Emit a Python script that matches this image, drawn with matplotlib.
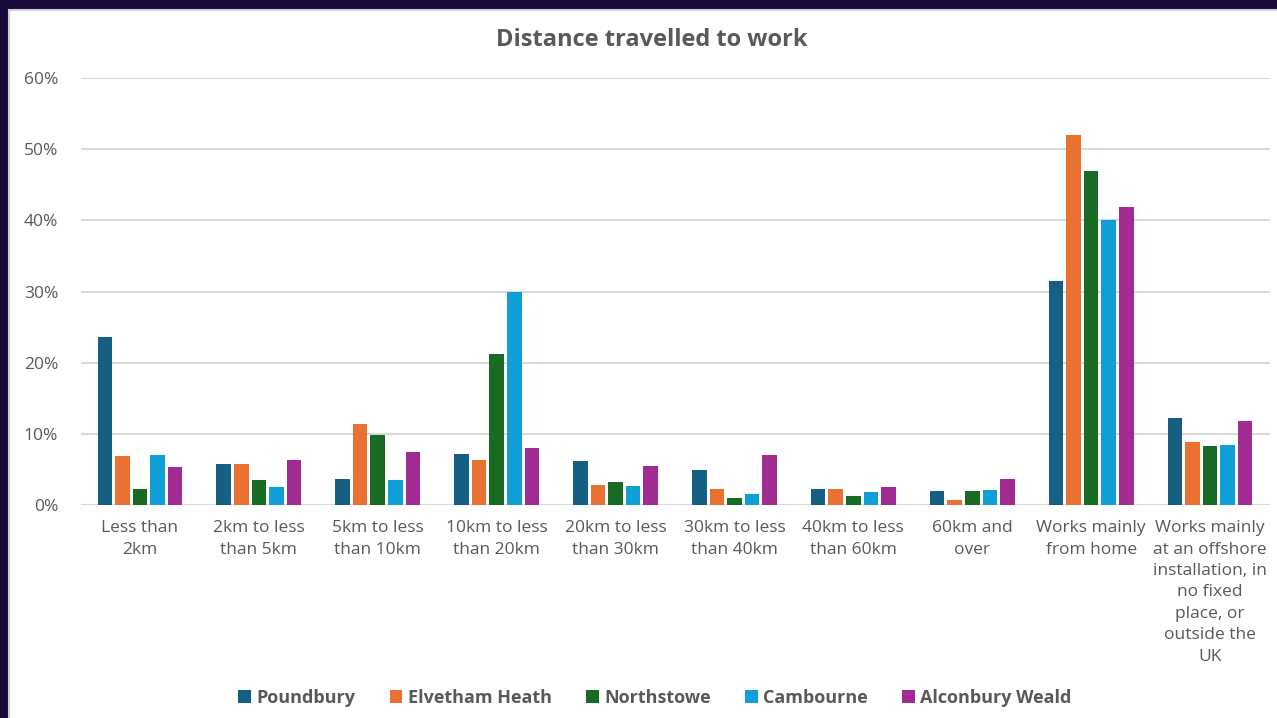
import matplotlib
matplotlib.use("Agg")
from matplotlib import pyplot as plt
from matplotlib.patches import Rectangle
import numpy as np

CATEGORIES = [
    "Less than\n2km", "2km to less\nthan 5km", "5km to less\nthan 10km",
    "10km to less\nthan 20km", "20km to less\nthan 30km", "30km to less\nthan 40km",
    "40km to less\nthan 60km", "60km and\nover", "Works mainly\nfrom home",
    "Works mainly\nat an offshore\ninstallation, in\nno fixed\nplace, or\noutside the\nUK",
]
SERIES = ["Poundbury", "Elvetham Heath", "Northstowe", "Cambourne", "Alconbury Weald"]
poundbury = [23.6, 5.8, 3.7, 7.2, 6.2, 4.9, 2.2, 2.0, 31.5, 12.2]
elvetham_heath = [6.9, 5.8, 11.4, 6.3, 2.8, 2.3, 2.3, 0.7, 52.0, 8.9]
northstowe = [2.3, 3.5, 9.8, 21.2, 3.3, 1.0, 1.2, 2.0, 46.9, 8.3]
cambourne = [7.0, 2.5, 3.5, 30.0, 2.7, 1.6, 1.8, 2.1, 40.0, 8.4]
alconbury_weald = [5.4, 6.3, 7.4, 8.0, 5.5, 7.0, 2.5, 3.7, 41.9, 11.8]
VALUES = [poundbury, elvetham_heath, northstowe, cambourne, alconbury_weald]
COLORS = ["#156082", "#E97132", "#196B24", "#0F9ED5", "#A02B93"]
YTICKS = [0, 10, 20, 30, 40, 50, 60]

INK = "#595959"
GRID = "#D9D9D9"
BORDER = "#1A0A3C"

plt.rcParams["font.family"] = ["Open Sans", "DejaVu Sans"]

fig = plt.figure(figsize=(12.77, 7.18), dpi=100, facecolor=BORDER)
# white chart card inside the dark slide border
fig.patches.append(Rectangle((9 / 1277, -0.01), 1, 1.01 - 10 / 718, transform=fig.transFigure,
                             facecolor="white", edgecolor="#D0D0D0", linewidth=1.5,
                             zorder=-5))

ax = fig.add_axes([80.5 / 1277, 1 - 505 / 718, 1189 / 1277, 427 / 718])
ax.set_facecolor("none")

x = np.arange(len(CATEGORIES))
slot = 0.148
width = 0.122
for i, (name, vals, color) in enumerate(zip(SERIES, VALUES, COLORS)):
    ax.bar(x + (i - 2) * slot, vals, width=width, color=color, label=name, zorder=3)

ax.set_xlim(-0.5, len(CATEGORIES) - 0.5)
ax.set_ylim(0, 60)
ax.set_yticks(YTICKS)
ax.set_yticklabels([f"{v}%" for v in YTICKS])
ax.set_xticks(x)
ax.set_xticklabels(CATEGORIES, linespacing=1.45)
ax.tick_params(axis="both", length=0, labelsize=12.5, colors=INK)
ax.tick_params(axis="y", pad=16)
ax.tick_params(axis="x", pad=11)
ax.grid(axis="y", color=GRID, linewidth=1.5, zorder=0)
for side in ax.spines.values():
    side.set_visible(False)

fig.text(652 / 1277, 1 - 40 / 718, "Distance travelled to work", ha="center", va="center",
         fontsize=17, fontweight="bold", color=INK)

leg = fig.legend(loc="center", bbox_to_anchor=(655 / 1277, 1 - 698 / 718), ncol=5,
                 frameon=False, handlelength=0.7, handleheight=0.7, handletextpad=0.3,
                 columnspacing=1.9, prop={"size": 13, "weight": "bold"})
for t in leg.get_texts():
    t.set_color(INK)

fig.savefig("out.png", dpi=100, facecolor=BORDER)
